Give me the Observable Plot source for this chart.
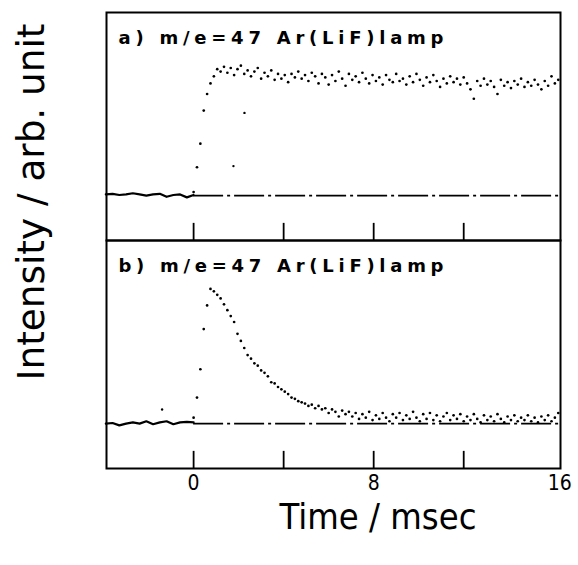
<!DOCTYPE html>
<html><head><meta charset="utf-8">
<script src="https://cdn.jsdelivr.net/npm/d3@7"></script>
<script src="https://cdn.jsdelivr.net/npm/@observablehq/plot@0.6"></script>
<style>
body{margin:0;background:#fff;}
#chart svg{display:block;}
</style></head><body><div id="chart"></div>
<script>
const panels = ["a", "b"];
const panelLabels = ["a) m/e=47 Ar(LiF)lamp", "b) m/e=47 Ar(LiF)lamp"];
const xTitle = "Time / msec";
const yTitle = "Intensity / arb. unit";
const tickTimes = [0, 4, 8, 12];
const tickLabels = [0, 8, 16];

// before t = 0 (drawn as a continuous trace)
const preTime = [-3.9,-3.6,-3.3,-3,-2.7,-2.4,-2.1,-1.8,-1.5,-1.2,-0.9,-0.6,-0.3,0];
const preA = [0.01,0.015,0.005,0.01,0.02,0.01,0.0,0.01,0.015,-0.01,0.005,0.01,-0.015,0.005];
const preB = [0.0,0.005,-0.015,0.0,0.01,0.0,0.02,-0.005,0.01,0.02,-0.005,0.01,0.015,0.01];

// after t = 0 (drawn as points)
const postTime = [
0,0.15,0.3,0.45,0.6,0.75,0.9,1.05,1.2,1.35,
1.5,1.65,1.8,1.95,2.1,2.25,2.4,2.55,2.7,2.85,
3,3.15,3.3,3.45,3.6,3.75,3.9,4.05,4.2,4.35,
4.5,4.65,4.8,4.95,5.1,5.25,5.4,5.55,5.7,5.85,
6,6.15,6.3,6.45,6.6,6.75,6.9,7.05,7.2,7.35,
7.5,7.65,7.8,7.95,8.1,8.25,8.4,8.55,8.7,8.85,
9,9.15,9.3,9.45,9.6,9.75,9.9,10.05,10.2,10.35,
10.5,10.65,10.8,10.95,11.1,11.25,11.4,11.55,11.7,11.85,
12,12.15,12.3,12.45,12.6,12.75,12.9,13.05,13.2,13.35,
13.5,13.65,13.8,13.95,14.1,14.25,14.4,14.55,14.7,14.85,
15,15.15,15.3,15.45,15.6,15.75,15.9,16.05,16.2];
const postA = [
0.03,0.24,0.44,0.72,0.86,0.95,1.01,1.07,1.05,1.09,
1.04,1.08,1.02,1.07,1.10,1.03,1.06,1.01,1.05,1.08,
0.99,1.04,1.01,1.06,0.98,1.03,0.99,1.02,0.96,1.03,
1.00,1.05,0.99,1.02,0.97,1.04,1.01,0.95,1.03,1.00,
0.94,1.02,0.97,1.05,0.99,0.93,1.03,0.98,1.01,0.96,
1.04,0.99,0.95,1.02,0.97,1.00,0.94,1.02,0.98,0.96,
1.03,0.97,0.99,0.94,1.01,0.96,1.03,0.98,0.93,1.00,
0.96,1.02,0.97,0.92,0.99,0.95,1.01,0.96,0.99,0.94,
1.00,0.95,0.90,0.82,0.97,0.93,0.99,0.94,0.97,0.92,
0.86,0.98,0.93,0.96,0.91,0.97,0.94,0.99,0.92,0.96,
0.93,0.98,0.94,0.90,0.97,0.93,1.01,0.95,0.98];
const postB = [
0.05,0.22,0.46,0.80,1.00,1.14,1.12,1.09,1.06,1.01,
0.96,0.91,0.86,0.76,0.70,0.64,0.58,0.55,0.51,0.49,
0.45,0.43,0.40,0.35,0.34,0.31,0.29,0.27,0.25,0.22,
0.21,0.19,0.18,0.17,0.15,0.16,0.13,0.15,0.12,0.13,
0.09,0.12,0.10,0.06,0.11,0.08,0.10,0.06,0.09,0.04,
0.08,0.05,0.10,0.03,0.07,0.04,0.09,0.05,0.02,0.08,
0.05,0.09,0.03,0.07,0.04,0.10,0.05,0.02,0.08,0.04,
0.09,0.03,0.07,0.02,0.06,0.09,0.03,0.07,0.04,0.08,
0.02,0.06,0.03,0.08,0.04,0.01,0.07,0.03,0.06,0.02,
0.08,0.04,0.01,0.06,0.03,0.07,0.02,0.05,0.03,0.07,
0.02,0.05,0.01,0.06,0.03,0.07,0.02,0.05,0.09];

// isolated stray points
const strayPanel = ["a", "a", "b"];
const strayTime = [1.77, 2.26, -1.4];
const strayValue = [0.25, 0.70, 0.12];

const preData = preTime.flatMap((t, i) => [{panel: "a", t, v: preA[i]}, {panel: "b", t, v: preB[i]}]);
const postData = postTime.flatMap((t, i) => [{panel: "a", t, v: postA[i]}, {panel: "b", t, v: postB[i]}]);
const strayData = strayPanel.map((p, i) => ({panel: p, t: strayTime[i], v: strayValue[i]}));
const tickData = panels.flatMap(p => tickTimes.map(t => ({panel: p, t})));
const baseData = panels.map(p => ({panel: p, v: 0}));
const labelData = panels.map((p, i) => ({panel: p, label: panelLabels[i]}));

const font = '"DejaVu Sans",sans-serif';

const chart = Plot.plot({
  width: 578, height: 565,
  marginLeft: 106, marginRight: 18, marginTop: 12, marginBottom: 97,
  x: {domain: [-3.87, 16.3], axis: null},
  y: {domain: [-0.38, 1.55], axis: null},
  fy: {domain: panels, padding: 0, axis: null},
  style: {fontFamily: font, background: "#fff", color: "#000"},
  marks: [
    Plot.ruleY(baseData, {fy: "panel", y: "v", x1: 0, x2: 16.3, stroke: "#000", strokeWidth: 1.6, strokeDasharray: "30,4,3,4"}),
    Plot.ruleX(tickData, {fy: "panel", x: "t", y1: -0.38, y2: -0.235, stroke: "#000", strokeWidth: 1.8}),
    Plot.line(preData, {fy: "panel", x: "t", y: "v", z: "panel", stroke: "#000", strokeWidth: 2.2, curve: "linear"}),
    Plot.dot(postData, {fy: "panel", x: "t", y: "v", r: 1.35, fill: "#000", stroke: null}),
    Plot.dot(strayData, {fy: "panel", x: "t", y: "v", r: 1.2, fill: "#000", stroke: null}),
    Plot.text(labelData, {fy: "panel", text: "label", frameAnchor: "top-left", textAnchor: "start", lineAnchor: "bottom", dx: 12, dy: 31, fontSize: 18, fontWeight: "bold", fill: "#000"}),
    Plot.frame({stroke: "#000", strokeWidth: 2}),
    Plot.axisX(tickLabels, {tickSize: 0, tickPadding: 6, fontSize: 22, label: null})
  ]
});
document.getElementById("chart").appendChild(chart);

const svg = d3.select(chart.tagName.toLowerCase() === "svg" ? chart : chart.querySelector("svg"));
svg.selectAll('g[aria-label="text"] text').attr("textLength", 325).attr("lengthAdjust", "spacing");
svg.selectAll('g[aria-label="x-axis tick label"] text').each(function() {
  const s = this.textContent;
  d3.select(this).attr("textLength", 12 * s.length).attr("lengthAdjust", "spacingAndGlyphs");
  if (s === "16") d3.select(this).attr("dx", 6);
});
svg.append("text")
  .attr("x", 378).attr("y", 529)
  .attr("text-anchor", "middle")
  .attr("font-size", 35)
  .attr("textLength", 197).attr("lengthAdjust", "spacingAndGlyphs")
  .attr("fill", "#000")
  .text(xTitle);
svg.append("text")
  .attr("transform", "translate(44,202) rotate(-90)")
  .attr("text-anchor", "middle")
  .attr("font-size", 37)
  .attr("textLength", 357).attr("lengthAdjust", "spacingAndGlyphs")
  .attr("fill", "#000")
  .text(yTitle);
</script></body></html>
